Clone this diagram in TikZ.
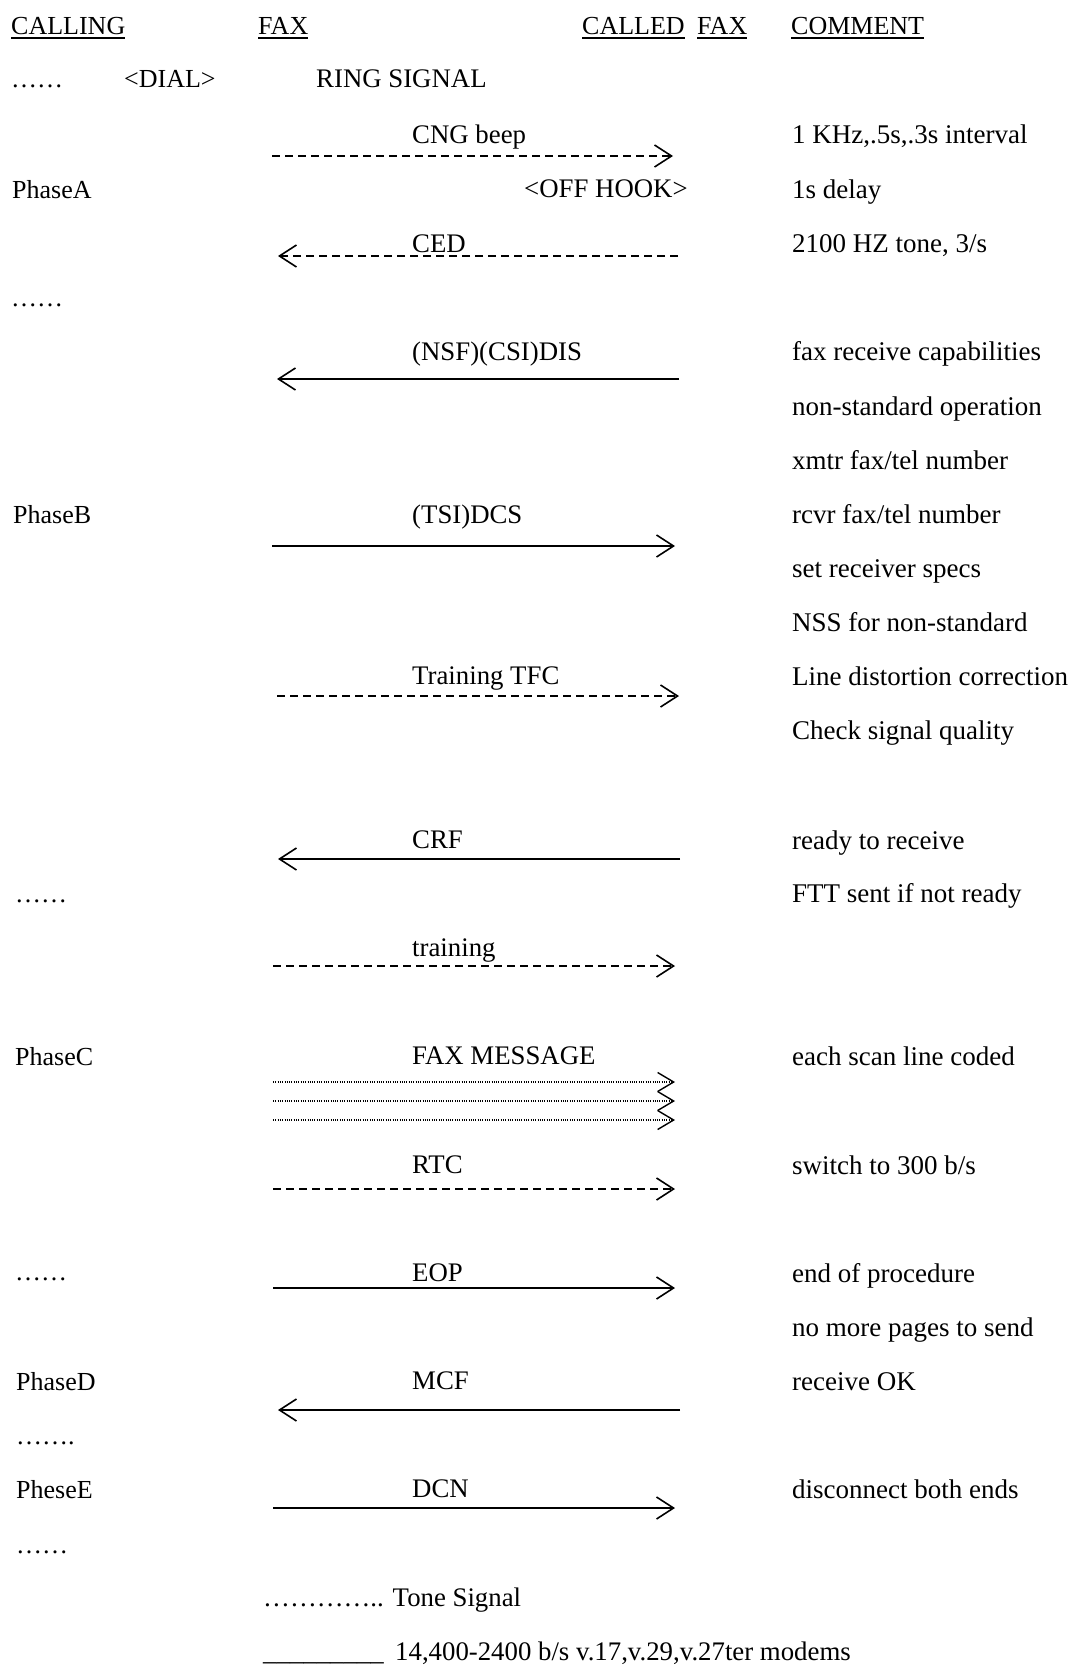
\documentclass[tikz,border=0pt]{standalone}
\usepackage{fontspec}
\setmainfont{Liberation Serif}
\usetikzlibrary{arrows.meta}
\begin{document}
\begin{tikzpicture}[x=1pt,y=-1pt,
  txt/.style={inner sep=0pt, anchor=base west, font=\fontsize{26}{30}\selectfont},
  lbl/.style={txt, font=\fontsize{26.8}{30}\selectfont},
  cmt/.style={txt, font=\fontsize{27}{30}\selectfont},
  uline/.style={line width=1.4pt},
  barb/.style={-{Straight Barb[length=17pt,width=22pt,line width=1.6pt]}},
  solidmsg/.style={barb, line width=1.6pt},
  dashmsg/.style={barb, line width=1.5pt, dash pattern=on 8pt off 5pt},
  dotmsg/.style={-{Straight Barb[length=16pt,width=19pt,line width=1.4pt]},
                 line width=1.1pt, dash pattern=on 1pt off 1.3pt}
]
\useasboundingbox (0,0) rectangle (1072,1668);

% ---------- column headings ----------
\node[txt] (hcalling) at (11,34) {CALLING};
\node[txt] (hfax)     at (258,34) {FAX};
\node[txt] (hcalled)  at (582,34) {CALLED};
\node[txt] (hfax2)    at (697,34) {FAX};
\node[txt] (hcomment) at (791,34) {COMMENT};
\foreach \h in {hcalling,hfax,hcalled,hfax2,hcomment}
  \draw[uline] ([yshift=-4pt]\h.base west) -- ([yshift=-4pt]\h.base east);

% ---------- dialing ----------
\node[txt] (d0)   at (11,87)  {……};
\node[txt] (dial) at (124,87) {<DIAL>};
\node[lbl] (ring) at (316,87) {RING SIGNAL};

% ---------- phase labels on the left ----------
\node[txt] (pa)  at (12,198)  {PhaseA};
\node[txt] (d1)  at (11,306)  {……};
\node[txt] (pb)  at (13,523)  {PhaseB};
\node[txt] (d2)  at (15,902)  {……};
\node[txt] (pc)  at (15,1065) {PhaseC};
\node[txt] (d3)  at (15,1280) {……};
\node[txt] (pd)  at (16,1390) {PhaseD};
\node[txt] (d4)  at (16,1444) {…….};
\node[txt] (pe)  at (16,1498) {PheseE};
\node[txt] (d5)  at (16,1553) {……};

% ---------- message labels ----------
\node[lbl] (cng)  at (412,143)  {CNG beep};
\node[lbl] (hook) at (524,197)  {<OFF HOOK>};
\node[lbl] (ced)  at (412,252)  {CED};
\node[lbl] (dis)  at (412,360)  {(NSF)(CSI)DIS};
\node[lbl] (dcs)  at (412,523)  {(TSI)DCS};
\node[lbl] (tfc)  at (412,684)  {Training TFC};
\node[lbl] (crf)  at (412,848)  {CRF};
\node[lbl] (trn)  at (412,956)  {training};
\node[lbl] (msg)  at (412,1064) {FAX MESSAGE};
\node[lbl] (rtc)  at (412,1173) {RTC};
\node[lbl] (eop)  at (412,1281) {EOP};
\node[lbl] (mcf)  at (412,1389) {MCF};
\node[lbl] (dcn)  at (412,1497) {DCN};

% ---------- message end points ----------
\coordinate (cngL) at (272,156);  \coordinate (cngR) at (673,156);
\coordinate (cedL) at (278,256);  \coordinate (cedR) at (678,256);
\coordinate (disL) at (277,379);  \coordinate (disR) at (679,379);
\coordinate (dcsL) at (272,546);  \coordinate (dcsR) at (675,546);
\coordinate (tfcL) at (277,696);  \coordinate (tfcR) at (679,696);
\coordinate (crfL) at (278,859);  \coordinate (crfR) at (680,859);
\coordinate (trnL) at (273,966);  \coordinate (trnR) at (675,966);
\coordinate (m1L)  at (273,1082); \coordinate (m1R)  at (675,1082);
\coordinate (m2L)  at (273,1101); \coordinate (m2R)  at (675,1101);
\coordinate (m3L)  at (273,1120); \coordinate (m3R)  at (675,1120);
\coordinate (rtcL) at (273,1189); \coordinate (rtcR) at (675,1189);
\coordinate (eopL) at (273,1288); \coordinate (eopR) at (675,1288);
\coordinate (mcfL) at (278,1410); \coordinate (mcfR) at (680,1410);
\coordinate (dcnL) at (273,1508); \coordinate (dcnR) at (675,1508);

% ---------- messages ----------
\draw[dashmsg]  (cngL) -- (cngR);
\draw[dashmsg]  (cedR) -- (cedL);
\draw[solidmsg] (disR) -- (disL);
\draw[solidmsg] (dcsL) -- (dcsR);
\draw[dashmsg]  (tfcL) -- (tfcR);
\draw[solidmsg] (crfR) -- (crfL);
\draw[dashmsg]  (trnL) -- (trnR);
\draw[dotmsg]   (m1L) -- (m1R);
\draw[dotmsg]   (m2L) -- (m2R);
\draw[dotmsg]   (m3L) -- (m3R);
\draw[dashmsg]  (rtcL) -- (rtcR);
\draw[solidmsg] (eopL) -- (eopR);
\draw[solidmsg] (mcfR) -- (mcfL);
\draw[solidmsg] (dcnL) -- (dcnR);

% ---------- comments ----------
\node[cmt] (c1)  at (792,143)  {1 KHz,.5s,.3s interval};
\node[cmt] (c2)  at (792,198)  {1s delay};
\node[cmt] (c3)  at (792,252)  {2100 HZ tone, 3/s};
\node[cmt] (c4)  at (792,360)  {fax receive capabilities};
\node[cmt] (c5)  at (792,415)  {non-standard operation};
\node[cmt] (c6)  at (792,469)  {xmtr fax/tel number};
\node[cmt] (c7)  at (792,523)  {rcvr fax/tel number};
\node[cmt] (c8)  at (792,577)  {set receiver specs};
\node[cmt] (c9)  at (792,631)  {NSS for non-standard};
\node[cmt] (c10) at (792,685)  {Line distortion correction};
\node[cmt] (c11) at (792,739)  {Check signal quality};
\node[cmt] (c12) at (792,849)  {ready to receive};
\node[cmt] (c13) at (792,902)  {FTT sent if not ready};
\node[cmt] (c14) at (792,1065) {each scan line coded};
\node[cmt] (c15) at (792,1174) {switch to 300 b/s};
\node[cmt] (c16) at (792,1282) {end of procedure};
\node[cmt] (c17) at (792,1336) {no more pages to send};
\node[cmt] (c18) at (792,1390) {receive OK};
\node[cmt] (c19) at (792,1498) {disconnect both ends};

% ---------- legend ----------
\node[lbl] (ltone)  at (263,1606) {………….. Tone Signal};
\node[lbl] (lbar)   at (263,1660) {\_\_\_\_\_\_\_\_\_};
\node[lbl] (lmodem) at (395,1660) {14,400-2400 b/s v.17,v.29,v.27ter modems};
\end{tikzpicture}
\end{document}
